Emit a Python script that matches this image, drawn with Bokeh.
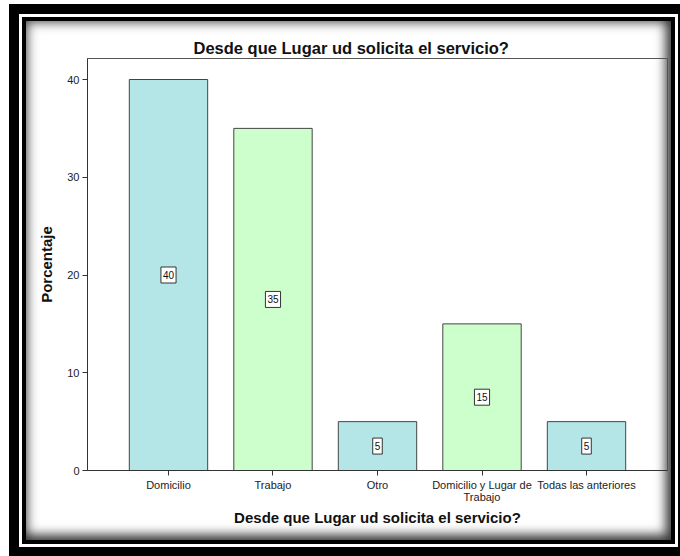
from bokeh.plotting import figure
from bokeh.models import FactorRange, Range1d, ColumnDataSource, FixedTicker, Title
from bokeh.core.properties import value
from bokeh.embed import file_html
from bokeh.resources import INLINE

# Survey answers: where the service is requested from (percent)
categories = ["Domicilio", "Trabajo", "Otro", "Domicilio y Lugar de\nTrabajo", "Todas las anteriores"]
percentages = [40, 35, 5, 15, 5]
bar_colors = ["#b4e6e8", "#ccffcc", "#b4e6e8", "#ccffcc", "#b4e6e8"]
y_ticks = [0, 10, 20, 30, 40]

chart_title = "Desde que Lugar ud solicita el servicio?"

source = ColumnDataSource(data=dict(
    cat=categories,
    pct=percentages,
    mid=[v / 2 for v in percentages],
    txt=[str(v) for v in percentages],
    color=bar_colors,
))

p = figure(
    width=645, height=519,
    x_range=FactorRange(factors=categories, range_padding=0.11),
    y_range=Range1d(0, 42.15),
    output_backend="svg", toolbar_location=None,
    min_border_left=61, min_border_right=4, min_border_top=37, min_border_bottom=70,
)

# framed panel: black / white / black rings and an inner shadow
p.styles = {
    "margin-left": "26px",
    "margin-top": "21px",
    "background-color": "white",
    "box-shadow": (
        "0 0 0 4px #000, 0 0 0 7px #fff, 0 0 0 17px #000, "
        "inset 0 0 12px 1px rgba(0,0,0,0.7), inset -6px -6px 11px rgba(0,0,0,0.5)"
    ),
}
p.border_fill_color = None
p.background_fill_color = None
p.outline_line_color = "#555555"
p.outline_line_width = 1

# title centred over the whole panel rather than the plot frame
p.title = Title(text=chart_title, align="left", offset=106,
                text_font="Liberation Sans", text_font_size="16.5px",
                text_font_style="bold", text_color="#111111", standoff=3)

p.vbar(x="cat", top="pct", width=0.75, source=source,
       fill_color="color", line_color="#444444", line_width=1)

# boxed value labels at half bar height
p.text(x="cat", y="mid", text="txt", source=source,
       text_align="center", text_baseline="middle",
       text_font=value("Liberation Sans"), text_font_size="10px", text_color="#111111",
       background_fill_color="white", border_line_color="#333333",
       padding=dict(left=2, right=2, top=4, bottom=4))

p.xgrid.visible = False
p.ygrid.visible = False

for ax in (p.xaxis[0], p.yaxis[0]):
    ax.axis_line_color = "#333333"
    ax.major_tick_line_color = "#333333"
    ax.major_tick_in = 0
    ax.major_tick_out = 5
    ax.minor_tick_line_color = None
    ax.major_label_text_font = "Liberation Sans"
    ax.major_label_text_font_size = "11px"
    ax.major_label_text_color = "#222222"
    ax.major_label_text_line_height = 1.0
    ax.axis_label_text_font = "Liberation Sans"
    ax.axis_label_text_font_style = "bold"
    ax.axis_label_text_font_size = "15px"
    ax.axis_label_text_color = "#111111"

p.yaxis.ticker = FixedTicker(ticks=y_ticks)
p.yaxis.axis_label = "Porcentaje"
p.yaxis.axis_label_standoff = 9
p.yaxis.major_label_standoff = 3

p.xaxis.axis_label = chart_title
p.xaxis.axis_label_standoff = 3
p.xaxis.major_label_standoff = 3
p.xaxis.major_label_orientation = "horizontal"

open("out.html", "w").write(file_html(p, INLINE))
